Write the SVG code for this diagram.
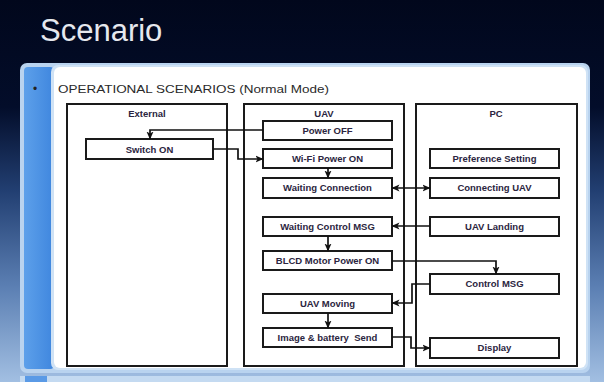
<svg xmlns="http://www.w3.org/2000/svg" width="604" height="382" viewBox="0 0 604 382">
<defs>
<linearGradient id="bg" x1="0" y1="0" x2="0" y2="1">
<stop offset="0" stop-color="#01071c"/>
<stop offset="0.28" stop-color="#030d2a"/>
<stop offset="0.5" stop-color="#223f72"/>
<stop offset="0.75" stop-color="#5b7fb3"/>
<stop offset="1" stop-color="#a2bfe2"/>
</linearGradient>
<linearGradient id="strip" x1="0" y1="0" x2="1" y2="0">
<stop offset="0" stop-color="#5da0ea"/>
<stop offset="1" stop-color="#3f86de"/>
</linearGradient>
<marker id="arr" viewBox="0 0 8 8" refX="7.5" refY="4" markerWidth="8" markerHeight="8" markerUnits="userSpaceOnUse" orient="auto-start-reverse">
<path d="M0,0.5 L8,4 L0,7.5 L2,4 z" fill="#111"/>
</marker>
<style>
.col{fill:#fff;stroke:#1a1a1a;stroke-width:2}
.box{fill:#fff;stroke:#1a1a1a;stroke-width:2}
.t{font-family:"Liberation Sans",Arial,sans-serif;font-weight:bold;font-size:9.5px;fill:#2b2540;text-anchor:middle;white-space:pre}
.c{fill:none;stroke:#111;stroke-width:1.7}
</style>
</defs>
<rect x="0" y="0" width="604" height="382" fill="url(#bg)"/>
<text x="40" y="41" font-family="'Liberation Sans',Arial,sans-serif" font-size="31" fill="#e6e8ee">Scenario</text>
<rect x="20" y="63" width="570" height="310" rx="7" fill="#b9d3ef"/>
<rect x="24" y="67" width="30" height="302" rx="4" fill="url(#strip)"/>
<rect x="51" y="65" width="537" height="305" rx="7" fill="#cfe2f5"/>
<rect x="54" y="67" width="532" height="301" rx="6" fill="#fff"/>
<rect x="20" y="376" width="570" height="6" fill="#c4daf1"/>
<rect x="25" y="376" width="22" height="6" fill="#5a9ae6"/>
<text x="33" y="93" font-family="'Liberation Sans',Arial,sans-serif" font-size="12" fill="#222">•</text>
<text x="58" y="93" font-family="'Liberation Sans',Arial,sans-serif" font-size="11.5" fill="#2a2a2a" textLength="271" lengthAdjust="spacingAndGlyphs">OPERATIONAL  SCENARIOS (Normal Mode)</text>
<g id="col-external"><rect class="col" x="67" y="104" width="160" height="262"/><text class="t" x="147" y="117">External</text></g>
<g id="col-uav"><rect class="col" x="244" y="104" width="160" height="262"/><text class="t" x="324" y="117">UAV</text></g>
<g id="col-pc"><rect class="col" x="416" y="104" width="161" height="262"/><text class="t" x="496" y="117">PC</text></g>
<g id="switch-on"><rect class="box" x="86" y="139" width="127" height="20"/><text class="t" x="149.5" y="152.5">Switch ON</text></g>
<g id="power-off"><rect class="box" x="263" y="121" width="129" height="19"/><text class="t" x="327.5" y="134">Power OFF</text></g>
<g id="wifi-power-on"><rect class="box" x="263" y="149" width="129" height="19"/><text class="t" x="327.5" y="162">Wi-Fi Power ON</text></g>
<g id="waiting-connection"><rect class="box" x="263" y="178" width="129" height="20"/><text class="t" x="327.5" y="191">Waiting Connection</text></g>
<g id="waiting-control-msg"><rect class="box" x="263" y="217" width="129" height="19"/><text class="t" x="327.5" y="230">Waiting Control MSG</text></g>
<g id="blcd-motor-power-on"><rect class="box" x="263" y="251" width="129" height="19"/><text class="t" x="327.5" y="264">BLCD Motor Power ON</text></g>
<g id="uav-moving"><rect class="box" x="263" y="294" width="129" height="19"/><text class="t" x="327.5" y="307">UAV Moving</text></g>
<g id="image-battery-send"><rect class="box" x="263" y="328" width="129" height="19"/><text class="t" x="327.5" y="341">Image &amp; battery  Send</text></g>
<g id="preference-setting"><rect class="box" x="430" y="149" width="129" height="19"/><text class="t" x="494.5" y="162">Preference Setting</text></g>
<g id="connecting-uav"><rect class="box" x="430" y="178" width="129" height="20"/><text class="t" x="494.5" y="191">Connecting UAV</text></g>
<g id="uav-landing"><rect class="box" x="430" y="217" width="129" height="19"/><text class="t" x="494.5" y="230">UAV Landing</text></g>
<g id="control-msg"><rect class="box" x="430" y="274" width="129" height="20"/><text class="t" x="494.5" y="287">Control MSG</text></g>
<g id="display"><rect class="box" x="430" y="338" width="129" height="20"/><text class="t" x="494.5" y="351">Display</text></g>
<g id="connectors">
<path class="c" d="M263,130 H150 V139" marker-end="url(#arr)"/>
<path class="c" d="M213,149 H238 V159 H263" marker-end="url(#arr)"/>
<path class="c" d="M328,168 V178" marker-end="url(#arr)"/>
<path class="c" d="M392,188 H430" marker-start="url(#arr)" marker-end="url(#arr)"/>
<path class="c" d="M430,226 H392" marker-end="url(#arr)"/>
<path class="c" d="M328,236 V251" marker-end="url(#arr)"/>
<path class="c" d="M392,261 H496 V274" marker-end="url(#arr)"/>
<path class="c" d="M430,284 H412 V303 H392" marker-end="url(#arr)"/>
<path class="c" d="M328,313 V328" marker-end="url(#arr)"/>
<path class="c" d="M392,337 H411 V348 H430" marker-end="url(#arr)"/>
</g>
</svg>
